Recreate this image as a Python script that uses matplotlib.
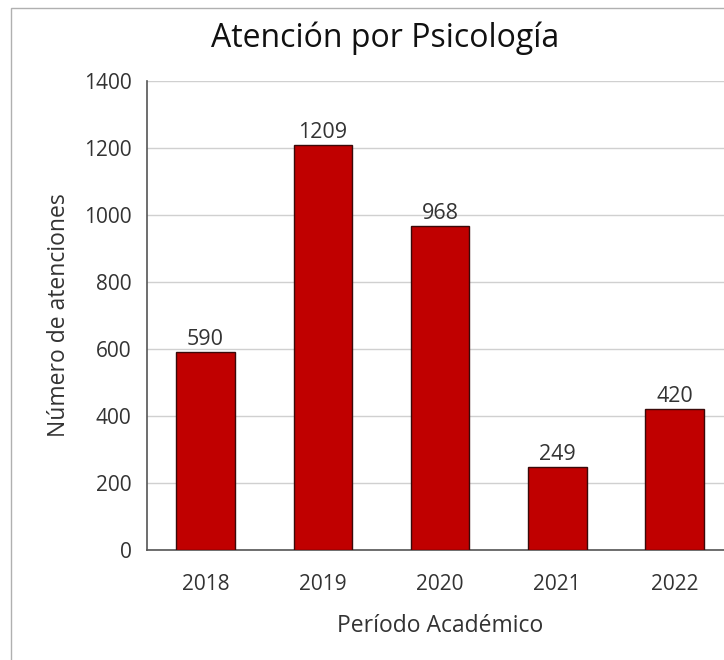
#!/usr/bin/env python3
import matplotlib
matplotlib.use("Agg")
import matplotlib.pyplot as plt
from matplotlib.patches import Rectangle

years = ["2018", "2019", "2020", "2021", "2022"]
atenciones = [590, 1209, 968, 249, 420]

plt.rcParams['font.family'] = ['Open Sans', 'DejaVu Sans']

fig = plt.figure(figsize=(7.24, 6.6), dpi=100)
ax = fig.add_axes([147/724, 1-550/660, 586/724, (550-81)/660])

x = range(len(years))
bars = ax.bar(x, atenciones, width=0.5, color='#C00000', edgecolor='#3a0a0a', linewidth=1.0, zorder=3)
for b, v in zip(bars, atenciones):
    ax.text(b.get_x() + b.get_width()/2, v + 6, str(v), ha='center', va='bottom',
            fontsize=15.5, color='#333333')

ax.set_xlim(-0.5, 4.5)
ax.set_ylim(0, 1400)
ax.set_yticks(range(0, 1401, 200))
ax.set_xticks(list(x))
ax.set_xticklabels(years)
ax.tick_params(axis='both', length=0, labelsize=15, colors='#333333')
ax.tick_params(axis='x', pad=17)
ax.tick_params(axis='y', pad=11)
ax.yaxis.grid(True, color='#d0d0d0', linewidth=1.0, zorder=0)
ax.set_axisbelow(True)
for s in ['top', 'right']:
    ax.spines[s].set_visible(False)
for s in ['left', 'bottom']:
    ax.spines[s].set_color('#555555')
    ax.spines[s].set_linewidth(1.2)

ax.set_ylabel("Número de atenciones", fontsize=16.5, color='#333333', labelpad=9)
ax.set_xlabel("Período Académico", fontsize=16.5, color='#333333', labelpad=14)
fig.text(385/724, 1-38/660, "Atención por Psicología", ha='center', va='center', fontsize=23, color='#111111')

# chart frame
fig.patches.append(Rectangle((11/724, -0.1), 1.2, 1-8/660+0.1, transform=fig.transFigure,
                             fill=False, edgecolor='#b0b0b0', linewidth=1.0))

fig.savefig("out.png", dpi=100)
